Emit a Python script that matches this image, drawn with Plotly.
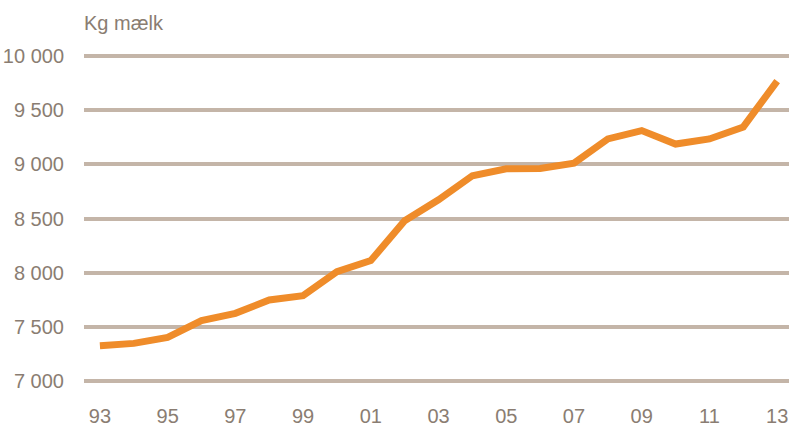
import plotly.graph_objects as go

# Average milk yield per cow, 1993-2013
years = list(range(1993, 2014))
milk_kg = [7324, 7346, 7402, 7556, 7624, 7747, 7787, 8009, 8111, 8479, 8673,
           8895, 8960, 8962, 9012, 9235, 9312, 9188, 9235, 9346, 9769]

x_tickvals = list(range(1993, 2014, 2))
x_ticktext = ["93", "95", "97", "99", "01", "03", "05", "07", "09", "11", "13"]
y_tickvals = [7000, 7500, 8000, 8500, 9000, 9500, 10000]

TEXT = "#8a7d72"
GRID = "#c4b5a8"
LINE = "#ef8c2a"
FONT = "Liberation Sans, Arial, sans-serif"
FSIZE = 20

fig = go.Figure()
fig.add_trace(go.Scatter(
    x=years, y=milk_kg, mode="lines",
    line=dict(color=LINE, width=7),
    hoverinfo="x+y",
))

fig.update_layout(
    width=789, height=428,
    margin=dict(l=84, r=0, t=54, b=45),
    paper_bgcolor="white", plot_bgcolor="white",
    separators=", ",
    showlegend=False,
    font=dict(family=FONT, color=TEXT, size=FSIZE),
    xaxis=dict(
        range=[1992.53, 2013.35],
        tickvals=x_tickvals, ticktext=x_ticktext,
        showgrid=False, zeroline=False, showline=False,
        ticks="outside", ticklen=15, tickcolor="rgba(0,0,0,0)",
        tickfont=dict(family=FONT, color=TEXT, size=FSIZE),
        automargin=False, ticklabeloverflow="allow",
    ),
    yaxis=dict(
        range=[6980, 10020],
        tickvals=y_tickvals, tickformat=",d",
        showgrid=True, gridcolor=GRID, gridwidth=4,
        zeroline=False, showline=False,
        ticks="outside", ticklen=15, tickcolor="rgba(0,0,0,0)",
        tickfont=dict(family=FONT, color=TEXT, size=FSIZE),
        automargin=False, ticklabeloverflow="allow",
    ),
    annotations=[dict(
        text="Kg mælk", xref="paper", yref="paper",
        x=-0.003, y=1, xanchor="left", yanchor="middle", yshift=31,
        showarrow=False, font=dict(family=FONT, color=TEXT, size=FSIZE),
    )],
)

fig.write_html("out.html")
